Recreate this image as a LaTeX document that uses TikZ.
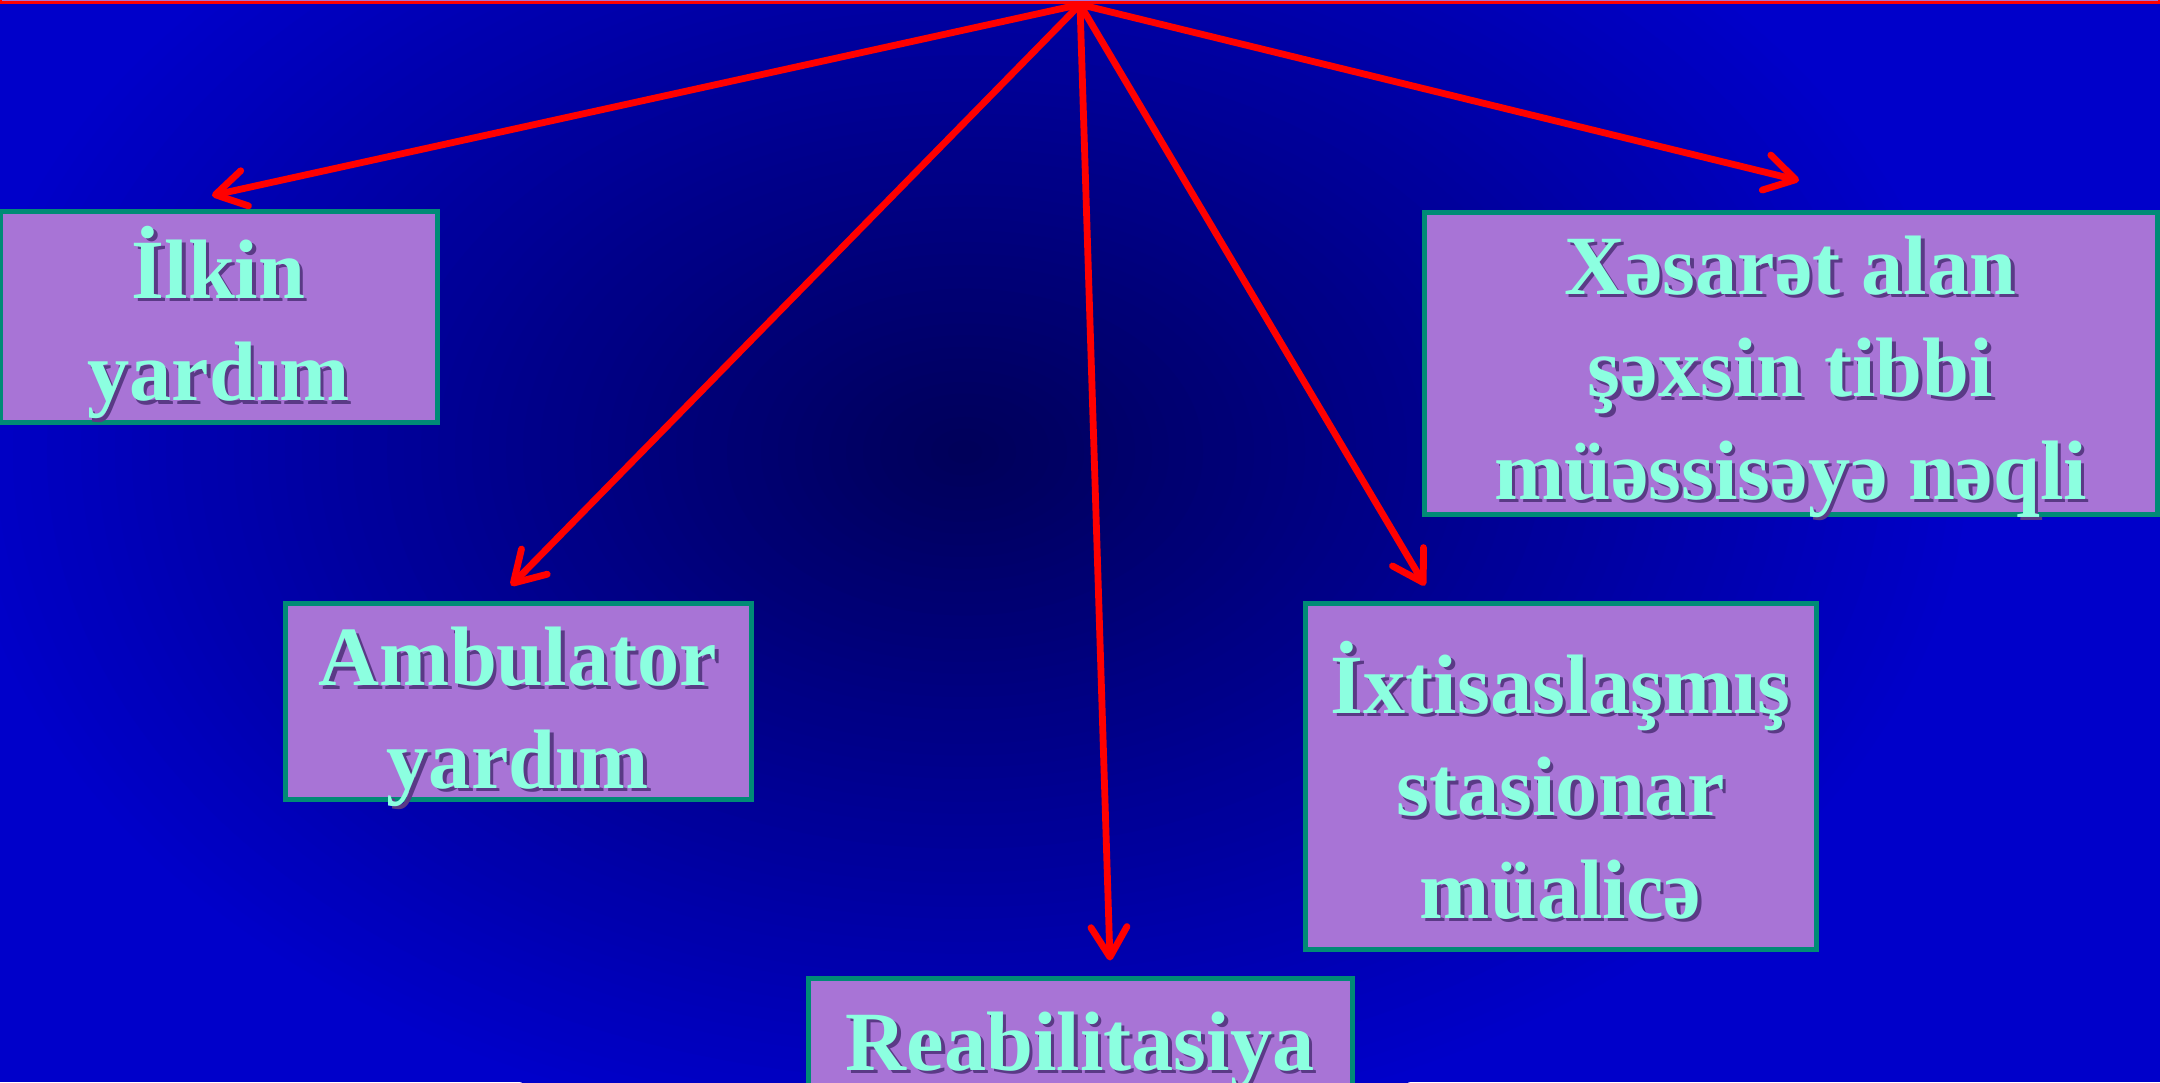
\documentclass[tikz,border=0pt]{standalone}
\usepackage{fontspec}
\setmainfont{Liberation Serif}
\usepackage{xcolor}
\usepackage{tikz}
\usetikzlibrary{arrows.meta}
\usetikzlibrary{positioning}

\definecolor{bgin}{HTML}{000058}
\definecolor{bgout}{HTML}{0000CA}
\definecolor{boxfill}{HTML}{A874D6}
\definecolor{boxline}{HTML}{008B76}
\definecolor{cyantext}{HTML}{8CFFE0}
\definecolor{textshade}{HTML}{5A3A86}

\begin{document}
\begin{tikzpicture}[
        carebox/.style={draw=boxline, line width=0.05cm, fill=boxfill, inner sep=0pt},
        caretext/.style={text=cyantext, align=center, font=\fontsize{24}{29.2}\selectfont\bfseries, inner sep=0pt},
        careshadow/.style={caretext, text=textshade},
        srcbox/.style={draw=red, line width=0.03cm, fill=boxfill, inner sep=0pt},
        flow/.style={draw=red, line width=0.068cm, line cap=round, -{Straight Barb[length=3mm, width=3.6mm, round]}}
    ]

    %=== Page and background ===%
    \useasboundingbox (0,0) rectangle (21.6,10.82);
    \fill[bgout] (0,0) rectangle (21.6,10.82);
    % dark glow, drawn as rings from outside in
    \foreach \k in {0,...,59}{
        \pgfmathsetmacro{\r}{1-\k/60}
        \pgfmathsetmacro{\p}{100*\k/60}
        \fill[bgin!\p!bgout] (9.65,6.3) ellipse ({10.2*\r} and {7*\r});
    }

    %=== Box Macro ===%
    % name, centre, width, height, text shift, text
    \newcommand{\careBox}[6]{
        \node[carebox, minimum width=#3, minimum height=#4] (#1) at (#2) {};
        \node[careshadow, yshift=#5] at ([shift={(0.035,-0.035)}]#1.center) {#6};
        \node[caretext, yshift=#5] (#1-text) at (#1.center) {#6};
    }

    % top strip, all arrows leave from it
    \node[srcbox, minimum width=21.59cm, minimum height=1cm, anchor=south] (src) at (10.8,10.775) {};

    %=== BOXES ===%
    \careBox{ilkin}{2.185,7.645}{4.37cm}{2.11cm}{-0.05cm}{İlkin\\yardım}
    \careBox{ambul}{5.18,3.81}{4.66cm}{1.96cm}{-0.16cm}{Ambulator\\yardım}
    \careBox{reab}{10.80,0.32}{5.44cm}{1.44cm}{0cm}{Reabilitasiya}
    \careBox{ixt}{15.605,3.06}{5.11cm}{3.46cm}{-0.04cm}{İxtisaslaşmış\\stasionar\\müalicə}
    \careBox{xes}{17.905,7.185}{7.33cm}{3.01cm}{-0.13cm}{Xəsarət alan\\şəxsin tibbi\\müəssisəyə nəqli}

    %=== ARROWS ===%
    \coordinate (ilkin-tip) at ([xshift=-0.065cm, yshift=0.14cm]ilkin.north);
    \coordinate (ambul-tip) at ([xshift=-0.07cm, yshift=0.15cm]ambul.north);
    \coordinate (reab-tip) at ([xshift=0.30cm, yshift=0.15cm]reab.north);
    \coordinate (ixt-tip) at ([xshift=-1.355cm, yshift=0.15cm]ixt.north);
    \coordinate (xes-tip) at ([xshift=0.085cm, yshift=0.30cm]xes.north);

    \foreach \tip in {ilkin,ambul,reab,ixt,xes}
        \draw[flow] (src.south) -- (\tip-tip);
\end{tikzpicture}
\end{document}
